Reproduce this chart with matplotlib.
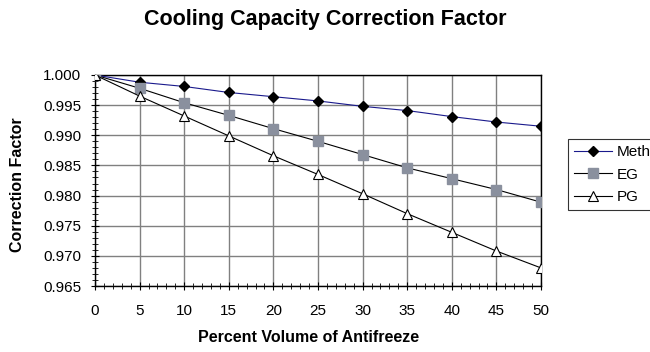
import matplotlib
matplotlib.use("Agg")
import matplotlib.pyplot as plt
from matplotlib.ticker import MultipleLocator, FormatStrFormatter

plt.rcParams['font.family'] = ['Liberation Sans', 'DejaVu Sans']

percent = [0, 5, 10, 15, 20, 25, 30, 35, 40, 45, 50]
meth = [1.000, 0.9988, 0.9981, 0.9971, 0.9964, 0.9957, 0.9948, 0.9941, 0.9931, 0.9922, 0.9915]
eg = [1.000, 0.9978, 0.9954, 0.9933, 0.9911, 0.9890, 0.9868, 0.9846, 0.9828, 0.9810, 0.9789]
pg = [1.000, 0.9965, 0.9932, 0.9899, 0.9866, 0.9835, 0.9803, 0.9770, 0.9739, 0.9708, 0.9680]

W, H = 650, 352
fig = plt.figure(figsize=(6.5, 3.52), dpi=100)
ax = fig.add_axes([95/W, 1-286/H, (541-95)/W, (286-75)/H])

ax.plot(percent, meth, color='#1a1a8c', lw=0.8, marker='D', ms=5,
        mfc='black', mec='black', label='Meth', zorder=3)
ax.plot(percent, eg, color='black', lw=0.8, marker='s', ms=7,
        mfc='#8a909e', mec='#8a909e', label='EG', zorder=3)
ax.plot(percent, pg, color='black', lw=0.8, marker='^', ms=7,
        mfc='white', mec='black', mew=0.8, label='PG', zorder=4)

ax.set_xlim(0, 50)
ax.set_ylim(0.965, 1.000)
ax.xaxis.set_major_locator(MultipleLocator(5))
ax.xaxis.set_minor_locator(MultipleLocator(1))
ax.yaxis.set_major_locator(MultipleLocator(0.005))
ax.yaxis.set_minor_locator(MultipleLocator(0.001))
ax.yaxis.set_major_formatter(FormatStrFormatter('%.3f'))
ax.grid(True, which='major', color='#808080', lw=1.0)
ax.tick_params(which='both', direction='inout', labelsize=11, colors='black')
ax.tick_params(which='major', length=6, width=0.8)
ax.tick_params(axis='x', which='major', pad=10)
ax.tick_params(axis='y', which='major', pad=7)
ax.tick_params(which='minor', length=5, width=0.6)
for s in ax.spines.values():
    s.set_color('black')
    s.set_linewidth(1.0)

fig.text(309/W, 1-338/H, 'Percent Volume of Antifreeze', ha='center', va='center',
         fontsize=11.5, fontweight='bold')
fig.text(18/W, 1-185/H, 'Correction Factor', ha='center', va='center', rotation=90,
         fontsize=11.5, fontweight='bold')
fig.text(325/W, 1-19/H, 'Cooling Capacity Correction Factor', ha='center', va='center',
         fontsize=15.5, fontweight='bold')

leg = fig.legend(loc='upper left', bbox_to_anchor=(568/W, 1-139/H), fontsize=11,
                 frameon=True, fancybox=False, edgecolor='black', handlelength=2.5,
                 borderpad=0.4, labelspacing=0.55, handletextpad=0.3, borderaxespad=0)
leg.get_frame().set_linewidth(0.8)

fig.savefig('out.png', dpi=100)
